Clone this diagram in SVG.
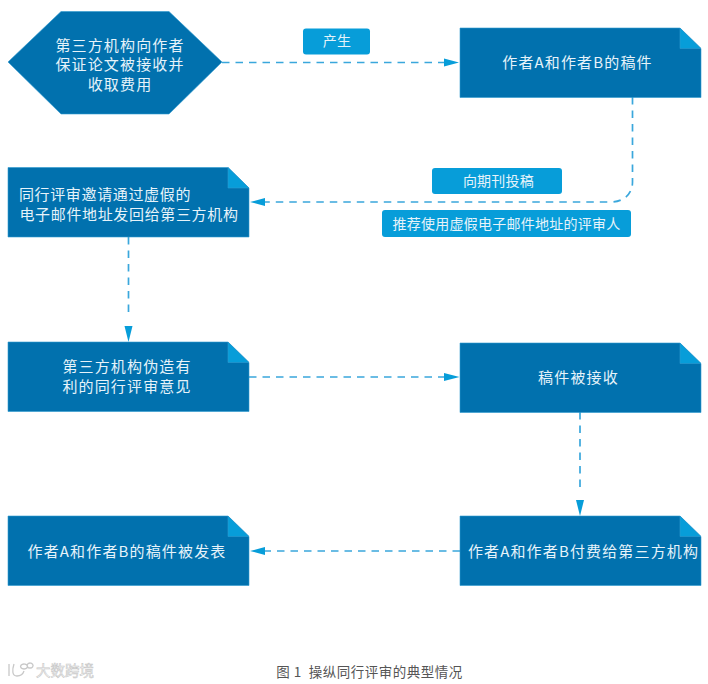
<svg xmlns="http://www.w3.org/2000/svg" width="708" height="684" viewBox="0 0 708 684">
<style>
text{font-family:"Noto Sans CJK SC","Noto Sans",sans-serif;text-anchor:middle}
.b{fill:#0171ae;stroke:#2f9bd0;stroke-width:.6}
.f{fill:#079dd9;stroke:#2f9bd0;stroke-width:.6}
.t{fill:#e6f3fa;font-size:15px;letter-spacing:1.15px}
.n{letter-spacing:.65px}
.l{fill:#079dd9}
.lt{fill:#e6f3fa;font-size:14px;letter-spacing:.25px}
.c{fill:none;stroke:#3aa7dc;stroke-width:1.7;stroke-dasharray:7.5 6}
.a{fill:#079dd9}
</style>
<defs>
<g id="note"><path class="b" d="M0 0H220L241 20.500V69.500H0Z"/><path class="f" d="M220 0L241 20.500H220Z"/></g>
</defs>
<g id="connectors">
<path class="c" d="M222 62.500H446"/><path class="a" d="M459 62.500L444 58.500V66.500Z"/>
<path class="c" d="M632.500 97V182C632.500 194 624 202 610 202H264"/><path class="a" d="M250 202L265 198V206Z"/>
<path class="c" d="M128.500 237V314"/><path class="a" d="M128.500 342L124.500 326H132.500Z"/>
<path class="c" d="M249 377H446"/><path class="a" d="M459.500 377L444 373V381Z"/>
<path class="c" d="M580 412V488"/><path class="a" d="M580 516L576 500H584Z"/>
<path class="c" d="M460 551H264"/><path class="a" d="M250 551L265 547V555Z"/>
</g>
<g id="n1"><path class="b" d="M8 62L61 11.500H169L222 62L169 114H61Z"/>
<text class="t" x="120" y="50.500">第三方机构向作者</text><text class="t" x="120" y="70">保证论文被接收并</text><text class="t" x="120" y="90">收取费用</text></g>
<g id="n2"><use href="#note" x="460" y="28"/><text class="t" x="577.500" y="68">作者A和作者B的稿件</text></g>
<g id="n3"><use href="#note" x="8" y="167.500"/><text class="t n" x="105" y="200">同行评审邀请通过虚假的</text><text class="t n" x="129" y="220">电子邮件地址发回给第三方机构</text></g>
<g id="n4"><use href="#note" x="8" y="342"/><text class="t" x="127" y="372">第三方机构伪造有</text><text class="t" x="127" y="392">利的同行评审意见</text></g>
<g id="n5"><use href="#note" x="460" y="343"/><text class="t" x="578.500" y="383">稿件被接收</text></g>
<g id="n6"><use href="#note" x="8" y="516"/><text class="t" x="127" y="557">作者A和作者B的稿件被发表</text></g>
<g id="n7"><use href="#note" x="460" y="516"/><text class="t" x="583.500" y="557">作者A和作者B付费给第三方机构</text></g>
<g id="label1"><rect class="l" x="303" y="28.500" width="67" height="26" rx="3"/><text class="lt" x="337" y="46">产生</text></g>
<g id="label2"><rect class="l" x="432" y="168" width="130" height="26" rx="3"/><text class="lt" x="498.500" y="186">向期刊投稿</text></g>
<g id="label3"><rect class="l" x="382" y="210" width="249" height="27" rx="3"/><text class="lt" x="506.500" y="229">推荐使用虚假电子邮件地址的评审人</text></g>
<g id="caption"><text x="369.500" y="677" font-size="13.500" letter-spacing=".5" fill="#555" style="white-space:pre">图 1  操纵同行评审的典型情况</text></g>
<g id="watermark"><text x="65" y="676" font-size="14.500" fill="#fff" stroke="#c8c8c8" stroke-width=".6">大数跨境</text>
<path d="M9 664V676M14 664C12 670 12 676 17 676C20 676 23 674 24 671M24 664a3.500 2.500 0 1 0 .1 0M30 663a3 2.500 0 1 0 .1 0" fill="none" stroke="#c8c8c8" stroke-width="1.300"/></g>
</svg>
